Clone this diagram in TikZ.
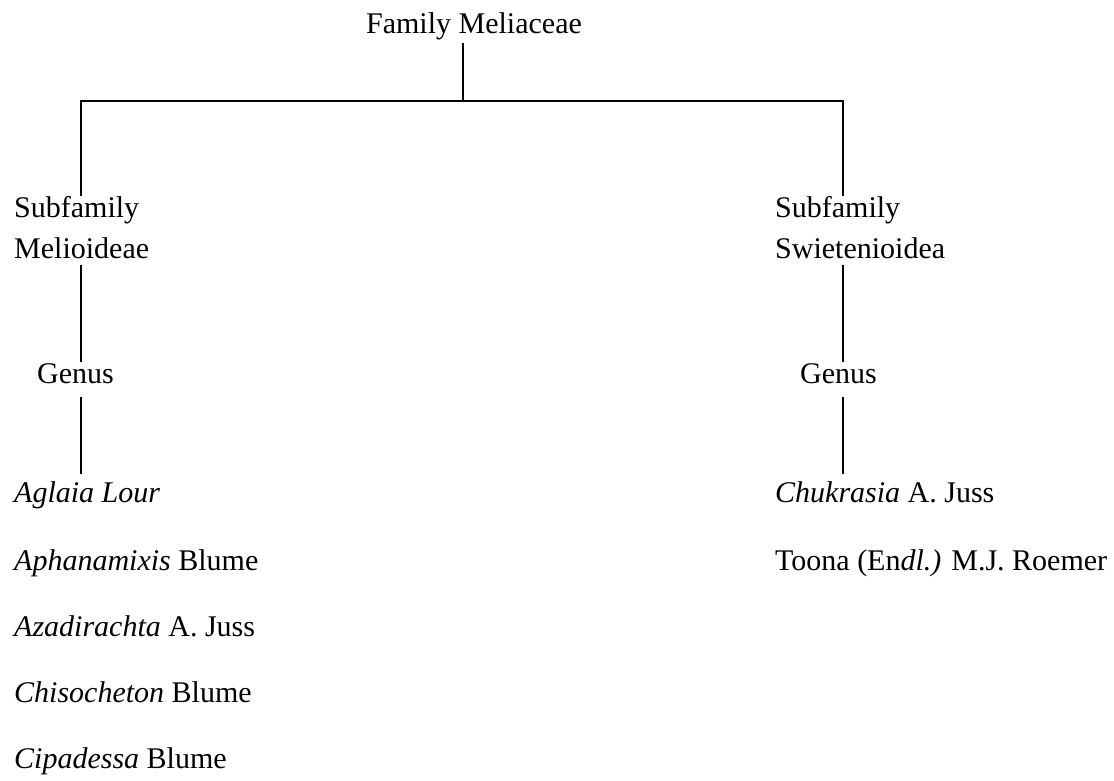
\documentclass[tikz,border=0pt]{standalone}
\usepackage{fontspec}
\setmainfont{Liberation Serif}
\begin{document}
\begin{tikzpicture}[x=1pt,y=-1pt,
  lbl/.style={anchor=base west,inner sep=0pt,font=\fontsize{30}{36}\selectfont,
              text height=21pt,text depth=7pt},
  conn/.style={draw=black,line width=1.6pt},
  gap/.style={shorten <=#1,shorten >=#1}]
\useasboundingbox (0,0) rectangle (1114,781);
% column coordinates
\coordinate (xF) at (463,0);
\coordinate (xL) at (81,0);
\coordinate (xR) at (843,0);
\coordinate (jF) at (463,101);
% nodes
\node[lbl,anchor=base] (fam) at (474,34) {Family Meliaceae};
\node[lbl] (subL) at (14,217) {Subfamily};
\node[lbl] (melL) at (14,258) {Melioideae};
\node[lbl] (genL) at (37,383) {Genus};
\node[lbl] (g1) at (14,502) {\textit{Aglaia Lour}};
\node[lbl] (g2) at (14,570) {\textit{Aphanamixis} Blume};
\node[lbl] (g3) at (14,636) {\textit{Azadirachta} A. Juss};
\node[lbl] (g4) at (14,702) {\textit{Chisocheton} Blume};
\node[lbl] (g5) at (14,768) {\textit{Cipadessa} Blume};
\node[lbl] (subR) at (775,217) {Subfamily};
\node[lbl] (swiR) at (775,258) {Swietenioidea};
\node[lbl] (genR) at (800,383) {Genus};
\node[lbl] (r1) at (775,502) {\textit{Chukrasia} A. Juss};
\node[lbl] (r2) at (775,570) {Toona (En\textit{dl.)} M.J. Roemer};
% connectors
\draw[conn,shorten <=2pt] (fam.south -| xF) -- (jF);
\draw[conn] (subL.north -| xL) |- (jF) -| (subR.north -| xR);
\draw[conn] (melL.south -| xL) -- (genL.north -| xL);
\draw[conn,gap=7pt] (genL.south -| xL) -- (g1.north -| xL);
\draw[conn] (swiR.south -| xR) -- (genR.north -| xR);
\draw[conn,gap=7pt] (genR.south -| xR) -- (r1.north -| xR);
\end{tikzpicture}
\end{document}
